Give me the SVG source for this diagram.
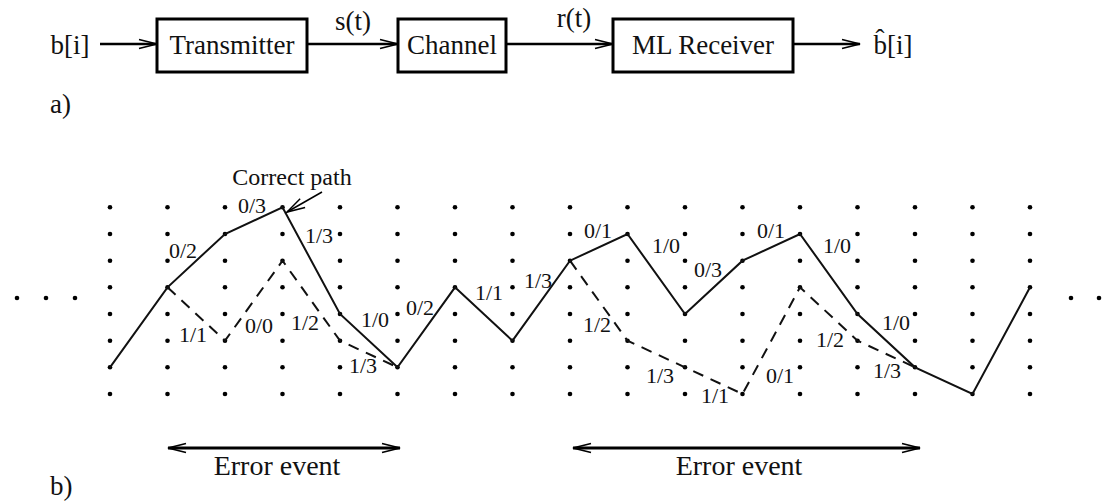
<svg xmlns="http://www.w3.org/2000/svg" xmlns:xlink="http://www.w3.org/1999/xlink" width="1117" height="504" viewBox="0 0 1117 504">
  <style>
    text { font-family: "Liberation Serif", "Times New Roman", serif; fill: #111; }
    .big { font-size: 27px; }
    .lbl { font-size: 22px; text-anchor: middle; }
    .mid { text-anchor: middle; }
    .box { fill: #fff; stroke: #000; stroke-width: 3; }
    .wire { fill: none; stroke: #000; stroke-width: 2.6; }
    .span { fill: none; stroke: #000; stroke-width: 3.2; }
    .path { fill: none; stroke: #111; stroke-width: 2; stroke-linejoin: miter; }
    .alt { fill: none; stroke: #111; stroke-width: 2; stroke-dasharray: 11 8; }
    .dot { fill: #000; }
  </style>
  <defs>
    <marker id="head" markerUnits="userSpaceOnUse" markerWidth="22" markerHeight="14" refX="19" refY="7" orient="auto-start-reverse">
      <path d="M1,2.5 L19,7 L1,11.5" fill="none" stroke="#000" stroke-width="1.8"/>
    </marker>
    <marker id="thinhead" markerUnits="userSpaceOnUse" markerWidth="22" markerHeight="14" refX="19" refY="7" orient="auto">
      <path d="M1,2 L19,7 L1,12" fill="none" stroke="#000" stroke-width="1.5"/>
    </marker>
    <g id="dotrow">
      <circle cx="110" cy="0" r="2.3"/><circle cx="167.5" cy="0" r="2.3"/><circle cx="225" cy="0" r="2.3"/>
      <circle cx="282.5" cy="0" r="2.3"/><circle cx="340" cy="0" r="2.3"/><circle cx="397.5" cy="0" r="2.3"/>
      <circle cx="455" cy="0" r="2.3"/><circle cx="512.5" cy="0" r="2.3"/><circle cx="570" cy="0" r="2.3"/>
      <circle cx="627.5" cy="0" r="2.3"/><circle cx="685" cy="0" r="2.3"/><circle cx="742.5" cy="0" r="2.3"/>
      <circle cx="800" cy="0" r="2.3"/><circle cx="857.5" cy="0" r="2.3"/><circle cx="915" cy="0" r="2.3"/>
      <circle cx="972.5" cy="0" r="2.3"/><circle cx="1030" cy="0" r="2.3"/>
    </g>
  </defs>

  <rect width="1117" height="504" fill="#fff"/>

  <!-- a) block chain -->
  <g id="connectors">
    <line class="wire" x1="100" y1="44" x2="157" y2="44" marker-end="url(#head)"/>
    <line class="wire" x1="307" y1="44" x2="398" y2="44" marker-end="url(#head)"/>
    <line class="wire" x1="506" y1="44" x2="613" y2="44" marker-end="url(#head)"/>
    <line class="wire" x1="793" y1="44" x2="860" y2="44" marker-end="url(#head)"/>
  </g>
  <g id="input"><text class="big mid" x="70" y="54">b[i]</text></g>
  <g id="transmitter">
    <rect class="box" x="157" y="19" width="150" height="53"/>
    <text class="big mid" x="232" y="54">Transmitter</text>
  </g>
  <g id="channel">
    <rect class="box" x="398" y="19" width="108" height="53"/>
    <text class="big mid" x="452" y="54">Channel</text>
  </g>
  <g id="receiver">
    <rect class="box" x="613" y="19" width="180" height="53"/>
    <text class="big mid" x="703" y="54">ML Receiver</text>
  </g>
  <g id="signal-labels">
    <text class="big mid" x="353" y="30">s(t)</text>
    <text class="big mid" x="574" y="27">r(t)</text>
  </g>
  <g id="output"><text class="big mid" x="893" y="54">b̂[i]</text></g>
  <text class="big" x="50" y="113">a)</text>

  <!-- b) trellis -->
  <g id="grid" class="dot">
    <use xlink:href="#dotrow" y="207.3"/>
    <use xlink:href="#dotrow" y="234"/>
    <use xlink:href="#dotrow" y="260.7"/>
    <use xlink:href="#dotrow" y="287.3"/>
    <use xlink:href="#dotrow" y="314"/>
    <use xlink:href="#dotrow" y="340.7"/>
    <use xlink:href="#dotrow" y="367.3"/>
    <use xlink:href="#dotrow" y="394"/>
    <circle cx="17" cy="298" r="2.3"/><circle cx="46" cy="298" r="2.3"/><circle cx="75" cy="298" r="2.3"/>
    <circle cx="1071" cy="298" r="2.3"/><circle cx="1099" cy="298" r="2.3"/>
  </g>

  <g id="trellis-paths">
    <polyline class="path" points="110,367.3 167.5,287.3 225,234 282.5,207.3 340,314 397.5,367.3 455,287.3 512.5,340.7 570,260.7 627.5,234 685,314 742.5,260.7 800,234 857.5,314 915,367.3 972.5,394 1030,287.3"/>
    <polyline class="alt" points="167.5,287.3 225,340.7 282.5,260.7 340,340.7 397.5,367.3"/>
    <polyline class="alt" points="570,260.7 627.5,340.7 685,367.3 742.5,394 800,287.3 857.5,340.7 915,367.3"/>
  </g>

  <g id="branch-labels">
    <text class="lbl" x="183" y="258">0/2</text>
    <text class="lbl" x="252" y="213">0/3</text>
    <text class="lbl" x="319" y="243">1/3</text>
    <text class="lbl" x="193" y="342">1/1</text>
    <text class="lbl" x="259" y="333">0/0</text>
    <text class="lbl" x="305" y="330">1/2</text>
    <text class="lbl" x="375" y="327">1/0</text>
    <text class="lbl" x="363" y="373">1/3</text>
    <text class="lbl" x="420" y="315">0/2</text>
    <text class="lbl" x="489" y="300">1/1</text>
    <text class="lbl" x="538" y="288">1/3</text>
    <text class="lbl" x="598" y="238">0/1</text>
    <text class="lbl" x="666" y="253">1/0</text>
    <text class="lbl" x="708" y="277">0/3</text>
    <text class="lbl" x="771" y="238">0/1</text>
    <text class="lbl" x="597" y="332">1/2</text>
    <text class="lbl" x="660" y="383">1/3</text>
    <text class="lbl" x="715" y="403">1/1</text>
    <text class="lbl" x="780" y="383">0/1</text>
    <text class="lbl" x="837" y="253">1/0</text>
    <text class="lbl" x="896" y="330">1/0</text>
    <text class="lbl" x="830" y="347">1/2</text>
    <text class="lbl" x="887" y="378">1/3</text>
  </g>

  <g id="correct-path-note">
    <text class="mid" x="292" y="185" font-size="24">Correct path</text>
    <line x1="322" y1="192" x2="287" y2="212" stroke="#000" stroke-width="1.5" marker-end="url(#thinhead)"/>
  </g>

  <g id="error-events">
    <line class="span" x1="168" y1="448" x2="400" y2="448" marker-start="url(#head)" marker-end="url(#head)"/>
    <text class="mid" x="277" y="475" font-size="28">Error event</text>
    <line class="span" x1="573" y1="448" x2="920" y2="448" marker-start="url(#head)" marker-end="url(#head)"/>
    <text class="mid" x="739" y="475" font-size="28">Error event</text>
  </g>
  <text class="big" x="50" y="495">b)</text>
</svg>
